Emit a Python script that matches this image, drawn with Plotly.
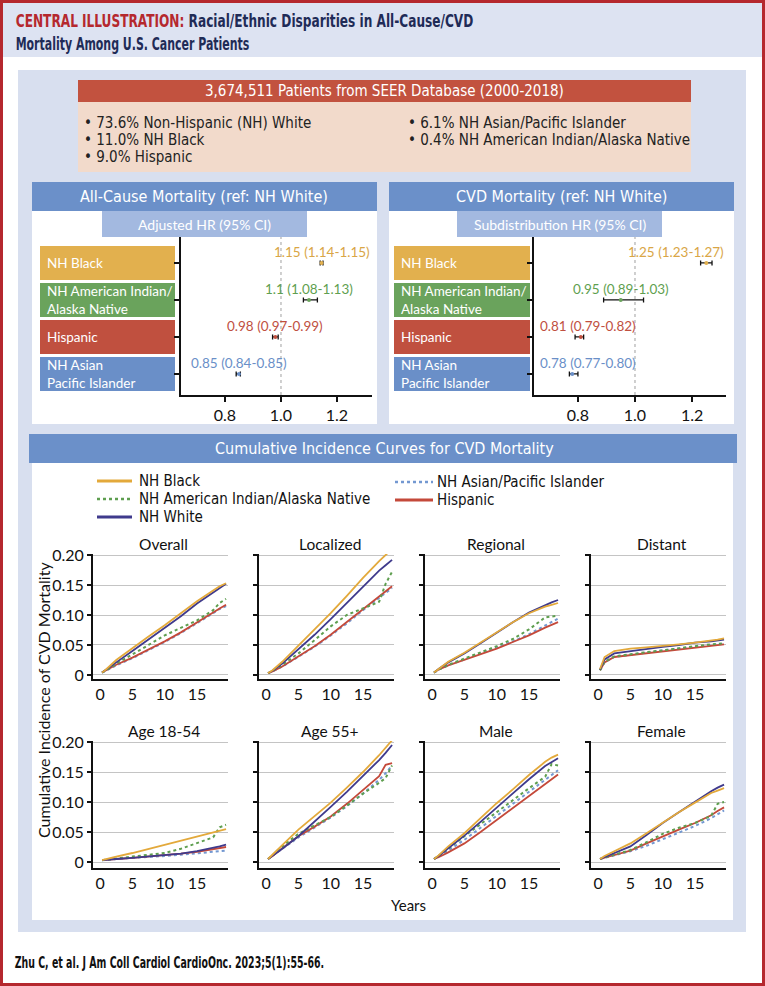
import plotly.graph_objects as go

W, H = 765, 986
NARROW = "Liberation Sans Narrow, Arial Narrow, DejaVu Sans Condensed, sans-serif"
BODY = "Lato, Open Sans, sans-serif"

# ---------------- data ----------------
title_red = "CENTRAL ILLUSTRATION:"
title_line1 = " Racial/Ethnic Disparities in All-Cause/CVD"
title_line2 = "Mortality Among U.S. Cancer Patients"
seer_title = "3,674,511 Patients from SEER Database (2000-2018)"
seer_col1 = ["• 73.6% Non-Hispanic (NH) White", "• 11.0% NH Black", "• 9.0% Hispanic"]
seer_col2 = ["• 6.1% NH Asian/Pacific Islander", "• 0.4% NH American Indian/Alaska Native"]

forest_labels = ["NH Black", "NH American Indian/<br>Alaska Native", "Hispanic", "NH Asian<br>Pacific Islander"]
forest_colors = ["#e2b04e", "#6aa35c", "#c0503f", "#6a8fc8"]
forest_text_colors = ["#d9a646", "#5f9f50", "#c0503f", "#6a8fc8"]

allcause_hr = [1.145, 1.10, 0.98, 0.85]
allcause_lo = [1.14, 1.08, 0.97, 0.84]
allcause_hi = [1.15, 1.13, 0.99, 0.855]
allcause_txt = ["1.15 (1.14-1.15)", "1.1 (1.08-1.13)", "0.98 (0.97-0.99)", "0.85 (0.84-0.85)"]

cvd_hr = [1.25, 0.95, 0.81, 0.78]
cvd_lo = [1.23, 0.89, 0.79, 0.77]
cvd_hi = [1.27, 1.03, 0.82, 0.80]
cvd_txt = ["1.25 (1.23-1.27)", "0.95 (0.89-1.03)", "0.81 (0.79-0.82)", "0.78 (0.77-0.80)"]

forest_ticks = [0.8, 1.0, 1.2]
forest_ticktext = ["0.8", "1.0", "1.2"]

years = [0.3, 1, 2.5, 5, 7.5, 10, 12.5, 15, 17.5, 18.5, 19.5]

overall_black = [0.004, 0.010, 0.025, 0.045, 0.064, 0.083, 0.103, 0.123, 0.141, 0.148, 0.153]
overall_white = [0.004, 0.009, 0.021, 0.040, 0.059, 0.078, 0.098, 0.119, 0.138, 0.145, 0.152]
overall_aian = [0.004, 0.008, 0.019, 0.034, 0.050, 0.066, 0.078, 0.091, 0.108, 0.120, 0.127]
overall_asian = [0.004, 0.008, 0.016, 0.028, 0.041, 0.055, 0.070, 0.086, 0.103, 0.110, 0.115]
overall_hisp = [0.004, 0.008, 0.017, 0.029, 0.042, 0.056, 0.071, 0.087, 0.104, 0.111, 0.117]

local_black = [0.003, 0.008, 0.022, 0.049, 0.075, 0.103, 0.132, 0.162, 0.190, 0.200, 0.210]
local_white = [0.003, 0.007, 0.019, 0.043, 0.067, 0.093, 0.120, 0.148, 0.174, 0.183, 0.192]
local_aian = [0.003, 0.007, 0.017, 0.036, 0.058, 0.081, 0.100, 0.111, 0.122, 0.152, 0.172]
local_asian = [0.003, 0.006, 0.014, 0.030, 0.047, 0.066, 0.086, 0.108, 0.128, 0.136, 0.145]
local_hisp = [0.003, 0.006, 0.014, 0.031, 0.048, 0.067, 0.088, 0.110, 0.131, 0.139, 0.148]

regional_black = [0.004, 0.010, 0.022, 0.037, 0.054, 0.072, 0.088, 0.103, 0.114, 0.117, 0.120]
regional_white = [0.004, 0.010, 0.021, 0.036, 0.053, 0.071, 0.088, 0.104, 0.117, 0.121, 0.125]
regional_aian = [0.004, 0.009, 0.017, 0.027, 0.037, 0.048, 0.060, 0.076, 0.096, 0.097, 0.099]
regional_asian = [0.004, 0.009, 0.016, 0.026, 0.035, 0.045, 0.056, 0.068, 0.083, 0.089, 0.094]
regional_hisp = [0.004, 0.009, 0.016, 0.025, 0.034, 0.044, 0.055, 0.066, 0.079, 0.084, 0.088]

distant_black = [0.010, 0.030, 0.040, 0.044, 0.046, 0.048, 0.051, 0.054, 0.057, 0.059, 0.061]
distant_white = [0.009, 0.026, 0.036, 0.040, 0.044, 0.047, 0.050, 0.054, 0.056, 0.058, 0.059]
distant_aian = [0.008, 0.022, 0.031, 0.035, 0.038, 0.041, 0.045, 0.048, 0.051, 0.052, 0.053]
distant_asian = [0.008, 0.021, 0.030, 0.034, 0.037, 0.041, 0.044, 0.047, 0.050, 0.051, 0.052]
distant_hisp = [0.008, 0.021, 0.030, 0.033, 0.036, 0.040, 0.043, 0.046, 0.048, 0.050, 0.051]

young_black = [0.003, 0.005, 0.009, 0.015, 0.022, 0.029, 0.036, 0.043, 0.050, 0.053, 0.055]
young_white = [0.003, 0.004, 0.005, 0.007, 0.009, 0.011, 0.014, 0.018, 0.023, 0.026, 0.029]
young_aian = [0.003, 0.004, 0.006, 0.009, 0.012, 0.015, 0.022, 0.032, 0.041, 0.058, 0.062]
young_asian = [0.003, 0.004, 0.005, 0.007, 0.008, 0.010, 0.012, 0.014, 0.016, 0.018, 0.019]
young_hisp = [0.003, 0.004, 0.005, 0.007, 0.009, 0.011, 0.014, 0.017, 0.021, 0.023, 0.025]

old_black = [0.005, 0.012, 0.028, 0.054, 0.076, 0.099, 0.124, 0.150, 0.178, 0.190, 0.203]
old_white = [0.005, 0.010, 0.022, 0.043, 0.067, 0.092, 0.117, 0.143, 0.170, 0.182, 0.195]
old_aian = [0.005, 0.011, 0.026, 0.047, 0.061, 0.075, 0.094, 0.114, 0.132, 0.140, 0.161]
old_asian = [0.005, 0.010, 0.022, 0.041, 0.057, 0.074, 0.093, 0.114, 0.137, 0.148, 0.161]
old_hisp = [0.005, 0.010, 0.023, 0.043, 0.059, 0.076, 0.097, 0.120, 0.143, 0.162, 0.165]

male_black = [0.005, 0.011, 0.026, 0.048, 0.073, 0.098, 0.121, 0.145, 0.167, 0.174, 0.179]
male_white = [0.005, 0.010, 0.023, 0.044, 0.067, 0.091, 0.114, 0.138, 0.160, 0.167, 0.173]
male_aian = [0.005, 0.010, 0.022, 0.043, 0.063, 0.084, 0.103, 0.123, 0.142, 0.163, 0.161]
male_asian = [0.005, 0.009, 0.019, 0.037, 0.057, 0.077, 0.097, 0.117, 0.138, 0.146, 0.153]
male_hisp = [0.005, 0.008, 0.016, 0.031, 0.050, 0.070, 0.090, 0.110, 0.131, 0.139, 0.146]

female_black = [0.005, 0.010, 0.018, 0.031, 0.048, 0.066, 0.083, 0.099, 0.115, 0.119, 0.123]
female_white = [0.005, 0.008, 0.015, 0.026, 0.045, 0.065, 0.083, 0.101, 0.118, 0.124, 0.129]
female_aian = [0.005, 0.008, 0.012, 0.020, 0.033, 0.047, 0.057, 0.065, 0.077, 0.097, 0.100]
female_asian = [0.005, 0.007, 0.011, 0.018, 0.027, 0.038, 0.049, 0.060, 0.073, 0.080, 0.086]
female_hisp = [0.005, 0.007, 0.011, 0.019, 0.031, 0.043, 0.054, 0.065, 0.078, 0.085, 0.091]

panel_titles = ["Overall", "Localized", "Regional", "Distant", "Age 18-54", "Age 55+", "Male", "Female"]
x_ticks = [0, 5, 10, 15]
x_ticktext = ["0", "5", "10", "15"]
y_ticks = [0, 0.05, 0.10, 0.15, 0.20]
y_ticktext = ["0", "0.05", "0.10", "0.15", "0.20"]

series_names = ["NH Asian/Pacific Islander", "Hispanic", "NH American Indian/Alaska Native", "NH White", "NH Black"]
series_colors = ["#7398d1", "#c4493a", "#5e9e4f", "#3f3a8c", "#e3a93b"]
series_dash = ["dot", "solid", "dot", "solid", "solid"]

panel_series = [
    [overall_asian, overall_hisp, overall_aian, overall_white, overall_black],
    [local_asian, local_hisp, local_aian, local_white, local_black],
    [regional_asian, regional_hisp, regional_aian, regional_white, regional_black],
    [distant_asian, distant_hisp, distant_aian, distant_white, distant_black],
    [young_asian, young_hisp, young_aian, young_white, young_black],
    [old_asian, old_hisp, old_aian, old_white, old_black],
    [male_asian, male_hisp, male_aian, male_white, male_black],
    [female_asian, female_hisp, female_aian, female_white, female_black],
]

legend_col1 = [("NH Black", "#e3a93b", "solid"), ("NH American Indian/Alaska Native", "#5e9e4f", "dot"), ("NH White", "#3f3a8c", "solid")]
legend_col2 = [("NH Asian/Pacific Islander", "#7398d1", "dot"), ("Hispanic", "#c4493a", "solid")]

footer = "Zhu C, et al. J Am Coll Cardiol CardioOnc. 2023;5(1):55-66."

# ---------------- helpers ----------------
def fx(x):
    return x / W

def fy(y):
    return 1 - y / H

shapes = []
annots = []

def rect(x0, y0, x1, y1, fill):
    shapes.append(dict(type="rect", xref="paper", yref="paper", x0=fx(x0), x1=fx(x1),
                       y0=fy(y1), y1=fy(y0), fillcolor=fill, line=dict(width=0), layer="below"))

def text(x, y, s, size, color, family=BODY, xanchor="center", yanchor="middle", **kw):
    annots.append(dict(xref="paper", yref="paper", x=fx(x), y=fy(y), text=s, showarrow=False,
                       xanchor=xanchor, yanchor=yanchor, font=dict(family=family, size=size, color=color), **kw))

# ---------------- background blocks ----------------
rect(0, 0, W, H, "#b5282e")
rect(3, 3, W - 3, H - 3, "#ffffff")
rect(3, 3, W - 3, 57, "#dde3f2")
rect(18, 70, 746, 932, "#d8dfef")
rect(78, 80, 691, 102, "#c2523f")
rect(78, 102, 691, 172, "#f2dacb")
rect(32, 182, 377, 211, "#6b90c9")
rect(389, 182, 734, 211, "#6b90c9")
rect(32, 211, 377, 424, "#ffffff")
rect(389, 211, 734, 424, "#ffffff")
rect(102, 211, 307, 237, "#a3b9e0")
rect(457, 211, 662, 237, "#a3b9e0")
rect(29, 434, 737, 463, "#6b90c9")
rect(32, 463, 733, 920, "#ffffff")

# title
text(14, 21, "<b><span style='color:#b5282e'>" + title_red + "</span>" + title_line1 + "</b>",
     18, "#1f2b57", NARROW, xanchor="left")
text(14, 43, "<b>" + title_line2 + "</b>", 18, "#1f2b57", NARROW, xanchor="left")

# SEER box
text(384, 91, seer_title, 15, "#ffffff", NARROW)
for i, s in enumerate(seer_col1):
    text(82, 123 + 17 * i, s, 15, "#222222", NARROW, xanchor="left")
for i, s in enumerate(seer_col2):
    text(406, 123 + 17 * i, s, 15, "#222222", NARROW, xanchor="left")

# section headers
text(204, 196, "All-Cause Mortality (ref: NH White)", 16, "#ffffff", NARROW)
text(561, 196, "CVD Mortality (ref: NH White)", 16, "#ffffff", NARROW)
text(204, 224, "Adjusted HR (95% CI)", 14, "#ffffff", BODY)
text(560, 224, "Subdistribution HR (95% CI)", 14, "#ffffff", BODY)
text(384, 448, "Cumulative Incidence Curves for CVD Mortality", 16, "#ffffff", NARROW)

# ---------------- forest plots ----------------
fig = go.Figure()
cat_idx = [3, 2, 1, 0]
cat_centers = [263, 300, 337, 374]
forest_specs = [
    dict(ax="", box_x=(40, 175), dom=(181, 372), rng=[0.643, 1.325],
         hr=allcause_hr, lo=allcause_lo, hi=allcause_hi, txt=allcause_txt),
    dict(ax="2", box_x=(394, 530), dom=(534, 726), rng=[0.646, 1.319],
         hr=cvd_hr, lo=cvd_lo, hi=cvd_hi, txt=cvd_txt),
]
layout_axes = {}
for spec in forest_specs:
    a = spec["ax"]
    bx0, bx1 = spec["box_x"]
    for lab, col, yc in zip(forest_labels, forest_colors, cat_centers):
        rect(bx0, yc - 17, bx1, yc + 17, col)
        text(bx0 + 5, yc, lab, 13.5, "#ffffff", BODY, xanchor="left", align="left")
    fig.add_trace(go.Scatter(
        x=spec["hr"], y=cat_idx, mode="markers", xaxis="x" + a, yaxis="y" + a,
        marker=dict(color=forest_colors, size=4),
        error_x=dict(type="data", symmetric=False,
                     array=[h - e for h, e in zip(spec["hi"], spec["hr"])],
                     arrayminus=[e - l for e, l in zip(spec["hr"], spec["lo"])],
                     color="#111111", thickness=1.3, width=2.5),
        showlegend=False, hoverinfo="skip"))
    d0, d1 = spec["dom"]
    layout_axes["xaxis" + a] = dict(domain=[fx(d0), fx(d1)], range=spec["rng"], anchor="y" + a,
                                    tickvals=forest_ticks, ticktext=forest_ticktext, ticks="outside",
                                    ticklen=5, tickwidth=1.5, tickcolor="#111", showline=True,
                                    linecolor="#111", linewidth=1.8, showgrid=False, zeroline=False,
                                    tickfont=dict(family=BODY, size=16, color="#111"))
    layout_axes["yaxis" + a] = dict(domain=[fy(395), fy(237)], range=[-0.57, 3.70], anchor="x" + a,
                                    tickvals=cat_idx, showticklabels=False, ticks="outside", ticklen=5,
                                    tickwidth=1.5, tickcolor="#111", showline=True, linecolor="#111",
                                    linewidth=1.8, showgrid=False, zeroline=False)
    shapes.append(dict(type="line", xref="x" + a, yref=("y" + a) + " domain", x0=1.0, x1=1.0, y0=0, y1=1,
                       line=dict(color="#b0b0b0", width=1.2, dash="dot"), layer="below"))
    lo_r, hi_r = spec["rng"]
    for est, t, yi, col in zip(spec["hr"], spec["txt"], cat_idx, forest_text_colors):
        if est > 1.2:
            xa, xv, xs = "right", hi_r, 0
        elif est < 0.83:
            xa, xv, xs = "left", lo_r, 4
        else:
            xa, xv, xs = "center", est, 0
        annots.append(dict(xref="x" + a, yref="y" + a, x=xv, y=yi, text=t, showarrow=False,
                           xanchor=xa, yanchor="middle", yshift=11, xshift=xs,
                           font=dict(family=BODY, size=13.5, color=col)))

# ---------------- cumulative incidence panels ----------------
col_doms = [(93, 228), (259, 394), (425, 560), (591, 726)]
row_doms = [(554, 679, [-0.0067, 0.2017]), (741, 868, [-0.010, 0.2017])]
for p, series in enumerate(panel_series):
    r, c = divmod(p, 4)
    k = str(p + 3)
    x0, x1 = col_doms[c]
    y0, y1, yr = row_doms[r]
    for name, vals, colr, dash in zip(series_names, series, series_colors, series_dash):
        fig.add_trace(go.Scatter(x=years, y=vals, mode="lines", xaxis="x" + k, yaxis="y" + k,
                                 line=dict(color=colr, width=1.8 if dash == "solid" else 2.0, dash=dash),
                                 name=name, showlegend=False, hoverinfo="skip"))
    layout_axes["xaxis" + k] = dict(domain=[fx(x0), fx(x1)], range=[-1.1, 19.8], anchor="y" + k,
                                    tickvals=x_ticks, ticktext=x_ticktext, ticks="", showline=True,
                                    linecolor="#111", linewidth=1.8, showgrid=False, zeroline=False,
                                    tickfont=dict(family=BODY, size=16, color="#111"))
    layout_axes["yaxis" + k] = dict(domain=[fy(y1), fy(y0)], range=yr, anchor="x" + k,
                                    tickvals=y_ticks, ticktext=y_ticktext, showticklabels=(c == 0),
                                    ticks="outside", ticklen=4, tickwidth=1.5, tickcolor="#111",
                                    showline=True, linecolor="#111", linewidth=1.8, showgrid=True,
                                    gridcolor="#c4c4c4", gridwidth=1.3, zeroline=False,
                                    tickfont=dict(family=BODY, size=16, color="#111"))
    text((x0 + x1) / 2 + 3, y0 - 10, panel_titles[p], 15.5, "#111111", BODY)

text(43, 700, "Cumulative Incidence of CVD Mortality", 16, "#111111", BODY, textangle=-90)
text(408, 905, "Years", 15, "#111111", BODY)

# legend
for i, (name, colr, dash) in enumerate(legend_col1):
    yy = 481 + 18 * i
    shapes.append(dict(type="line", xref="paper", yref="paper", x0=fx(97), x1=fx(132), y0=fy(yy), y1=fy(yy),
                       line=dict(color=colr, width=3 if dash == "solid" else 2.5, dash=dash)))
    text(137, yy, name, 15, "#111111", NARROW, xanchor="left")
for i, (name, colr, dash) in enumerate(legend_col2):
    yy = 482 + 18 * i
    shapes.append(dict(type="line", xref="paper", yref="paper", x0=fx(395), x1=fx(433), y0=fy(yy), y1=fy(yy),
                       line=dict(color=colr, width=3 if dash == "solid" else 2.5, dash=dash)))
    text(435, yy, name, 15, "#111111", NARROW, xanchor="left")

# footer
text(13, 963, "<b>" + footer + "</b>", 15, "#111111", NARROW, xanchor="left")

fig.update_layout(width=W, height=H, margin=dict(l=0, r=0, t=0, b=0, pad=0, autoexpand=False),
                  paper_bgcolor="#ffffff",
                  plot_bgcolor="rgba(0,0,0,0)", shapes=shapes, annotations=annots, showlegend=False,
                  **layout_axes)

# condense the bold title/footer lines horizontally to match the narrow typeface of the original
post = """
document.body.style.margin='0';document.body.style.overflow='hidden';
var gd = document.getElementById('{plot_id}');
var targets = [['CENTRAL', 460], ['Mortality Among', 236], ['Zhu C', 312]];
gd.querySelectorAll('g.annotation').forEach(function(g){
  var t = g.textContent || '';
  targets.forEach(function(pair){
    if (t.indexOf(pair[0]) === 0) {
      var bb = g.getBBox();
      if (bb.width > 0) {
        var s = pair[1] / bb.width;
        g.setAttribute('transform', 'translate(' + bb.x + ',0) scale(' + s + ',1) translate(' + (-bb.x) + ',0)');
      }
    }
  });
});
"""

fig.write_html("out.html", config={"displayModeBar": False}, post_script=post)
